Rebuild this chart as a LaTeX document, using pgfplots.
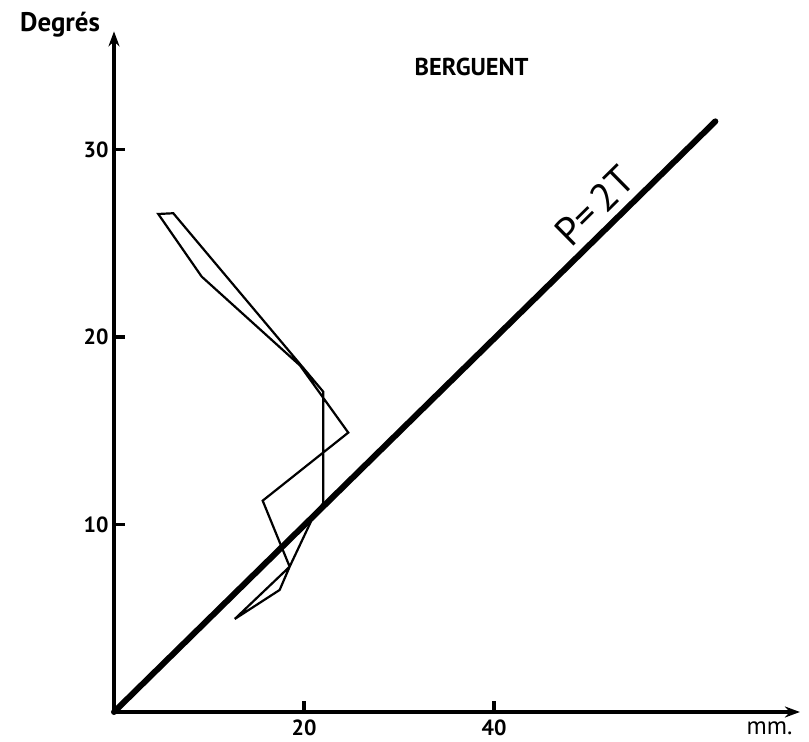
\documentclass[border=0pt]{standalone}
\usepackage{fontspec}
\setmainfont{PT Sans}
\usepackage{pgfplots}
\pgfplotsset{compat=1.18}
\usetikzlibrary{arrows.meta}
\begin{document}
\begin{tikzpicture}
\begin{axis}[
  at={(0,0)}, anchor=south west,
  x=9.5bp, y=18.75bp,
  xmin=0, xmax=72.2, ymin=0, ymax=36.3,
  axis lines=left,
  axis line style={draw=none},
  xtick={20,40}, ytick={10,20,30},
  major tick length=0pt,
  xticklabel style={font=\bfseries\fontsize{22}{22}\selectfont, yshift=-4bp},
  yticklabel style={font=\bfseries\fontsize{22}{22}\selectfont, xshift=-2bp},
  /pgf/number format/assume math mode=true,
  clip=false,
]
% axes
\addplot[black, line width=3.2bp, line cap=butt, -{Stealth[length=15bp,width=11bp]}] coordinates {(0,0) (72.2,0)};
\addplot[black, line width=3.2bp, line cap=butt, -{Stealth[length=15bp,width=11bp]}] coordinates {(0,0) (0,36.3)};
% data
\addplot[black, line width=6bp, line cap=round] coordinates {(0,0) (63.3,31.5)};
\addplot[black, line width=2.2bp, line join=miter] coordinates {
(12.71,4.96) (17.44,6.51) (18.49,7.75) (15.65,11.27) (24.66,14.90)
(19.58,18.48) (9.23,23.22) (4.66,26.56) (6.24,26.60) (22.03,17.08)
(22.03,11.15) (20.81,10.24) (18.49,7.75) (12.71,4.96)};
% tick marks
\addplot[black, line width=3.5bp, line cap=butt] coordinates {(20,-0.05) (20,0.6)};
\addplot[black, line width=3.5bp, line cap=butt] coordinates {(40,-0.05) (40,0.6)};
\addplot[black, line width=3.5bp, line cap=butt] coordinates {(-0.1,10) (1.2,10)};
\addplot[black, line width=3.5bp, line cap=butt] coordinates {(-0.1,20) (1.2,20)};
\addplot[black, line width=3.5bp, line cap=butt] coordinates {(-0.1,30) (1.2,30)};
\node[anchor=base, font=\bfseries\fontsize{27}{27}\selectfont] at (axis cs:-5.68,36.27) {Degrés};
\node[anchor=base, font=\bfseries\fontsize{24.5}{24.5}\selectfont] at (axis cs:37.65,33.97) {BERGUENT};
\node[anchor=base, inner sep=0pt, font=\fontsize{25}{25}\selectfont] at (axis cs:69.0,-1.2) {mm.};
\node[rotate=44.6, font=\fontsize{40}{40}\selectfont, inner sep=0pt] at (axis cs:50.6,27.0) {P=\,2T};
\end{axis}
\pgfresetboundingbox
\path[use as bounding box] (-114bp,-30bp) rectangle (695bp,712bp);
\end{tikzpicture}
\end{document}
